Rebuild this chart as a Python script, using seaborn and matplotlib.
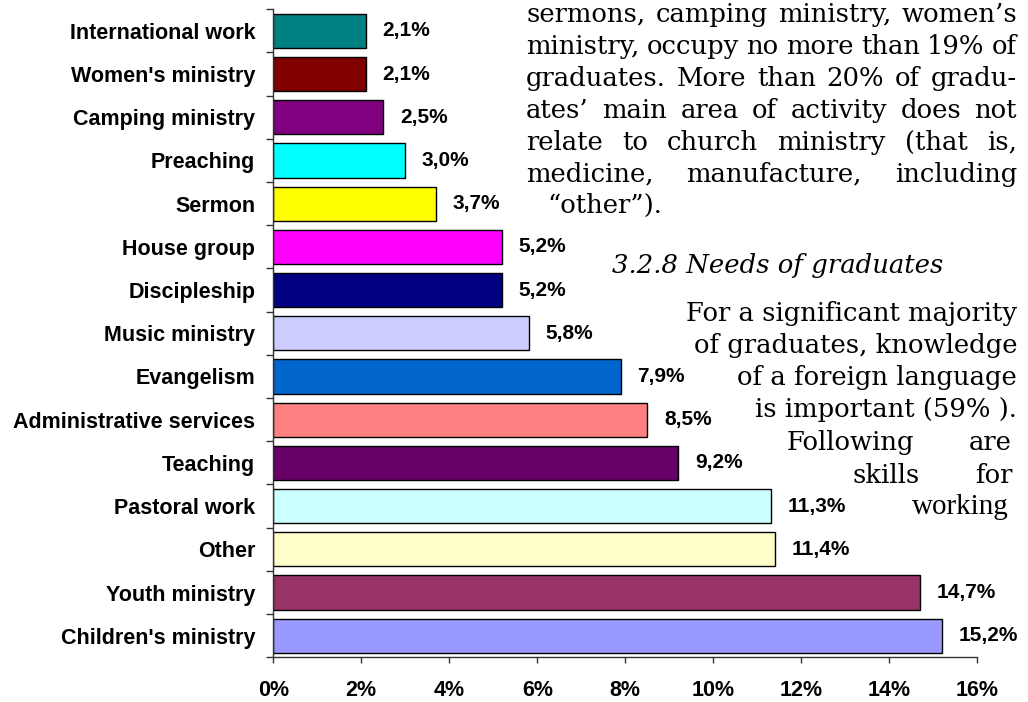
import matplotlib
matplotlib.use("Agg")
import matplotlib.pyplot as plt
import seaborn as sns
import pandas as pd
import numpy as np

# Main areas of graduates' activity (% of graduates)
categories = [
    "International work", "Women's ministry", "Camping ministry", "Preaching",
    "Sermon", "House group", "Discipleship", "Music ministry", "Evangelism",
    "Administrative services", "Teaching", "Pastoral work", "Other",
    "Youth ministry", "Children's ministry",
]
shares = [2.1, 2.1, 2.5, 3.0, 3.7, 5.2, 5.2, 5.8, 7.9, 8.5, 9.2, 11.3, 11.4, 14.7, 15.2]
bar_colors = [
    "#008080", "#800000", "#800080", "#00FFFF", "#FFFF00", "#FF00FF", "#000080",
    "#CCCCFF", "#0066CC", "#FF8080", "#660066", "#CCFFFF", "#FFFFCC", "#993366",
    "#9999FF",
]
x_ticks = [0, 2, 4, 6, 8, 10, 12, 14, 16]
x_tick_labels = ["0%", "2%", "4%", "6%", "8%", "10%", "12%", "14%", "16%"]

# Surrounding page text
paragraph_lines = [
    "sermons, camping ministry, women\u2019s",
    "ministry, occupy no more than 19% of",
    "graduates. More than 20% of gradu-",
    "ates\u2019 main area of activity does not",
    "relate to church ministry (that is,",
    "medicine, manufacture, including",
]
paragraph_end = "\u201cother\u201d)."
heading = "3.2.8 Needs of graduates"
needs_lines = [
    "For a significant majority",
    "of graduates, knowledge",
    "of a foreign language",
    "is important (59% ).",
]
spread_lines = ["Following are", "skills for"]
last_word = "working"

sns.set_style("white")
plt.rcParams["font.family"] = ["Liberation Sans", "DejaVu Sans"]
plt.rcParams["text.color"] = "black"
plt.rcParams["xtick.color"] = "black"
plt.rcParams["ytick.color"] = "black"

W, H = 1028, 702
fig = plt.figure(figsize=(W / 100, H / 100), dpi=100)
ax = fig.add_axes([273.3 / W, 1 - 657.3 / H, (977.3 - 273.3) / W, (657.3 - 9.3) / H])

df = pd.DataFrame({"activity": categories, "share": shares})
sns.barplot(
    data=df, x="share", y="activity", hue="activity", palette=bar_colors,
    legend=False, edgecolor="black", linewidth=1, width=0.79, saturation=1,
    orient="h", ax=ax,
)

ax.set_xlim(0, 16)
ax.set_ylim(len(categories) - 0.5, -0.5)
ax.set_xlabel("")
ax.set_ylabel("")
ax.set_xticks(x_ticks)
ax.set_xticklabels(x_tick_labels, fontsize=15.5, fontweight="bold", color="black")
ax.set_yticks(range(len(categories)))
ax.set_yticklabels(categories, fontsize=15.5, fontweight="bold", color="black")
ax.set_yticks(np.arange(-0.5, len(categories), 1), minor=True)

for side in ("top", "right"):
    ax.spines[side].set_visible(False)
for side in ("left", "bottom"):
    ax.spines[side].set_color("#333333")
    ax.spines[side].set_linewidth(1)

ax.tick_params(axis="x", which="major", bottom=True, length=4, width=1,
               color="#333333", pad=12, labelcolor="black")
ax.tick_params(axis="y", which="major", left=False, length=0, pad=13,
               labelcolor="black")
ax.tick_params(axis="y", which="minor", left=True, length=5, width=1,
               color="#333333")

for i, v in enumerate(shares):
    ax.annotate(f"{v:.1f}%".replace(".", ","), xy=(v, i), xytext=(12, 0),
                textcoords="offset points", ha="left", va="center",
                fontsize=15, fontweight="bold", color="black")

# Page text flowing around the chart
renderer = fig.canvas.get_renderer()
serif = "DejaVu Serif"


def width_of(s, size, family=serif, style="normal"):
    t = fig.text(0, 0, s, fontsize=size, family=family, style=style)
    w = t.get_window_extent(renderer).width
    t.remove()
    return w


right_edge = 1017
body_size = min(10 * 357 / width_of(needs_lines[0], 10),
                10 * (right_edge - 526 - 4) / width_of(paragraph_lines[0], 10))


def put(s, x, base, ha="left", size=None, family=serif, style="normal"):
    fig.text(x / W, 1 - base / H, s, fontsize=size or body_size, family=family,
             style=style, ha=ha, va="baseline", color="black")


def justify(line, left, right, base, size=None):
    size = size or body_size
    words = line.split(" ")
    widths = [width_of(w, size) for w in words]
    gap = (right - left - sum(widths)) / max(len(words) - 1, 1)
    x = left
    for w, wd in zip(words, widths):
        put(w, x, base, size=size)
        x += wd + gap


for k, line in enumerate(paragraph_lines):
    justify(line, 526, right_edge, 21.7 + 32 * k)
put(paragraph_end, 547, 213)
put(heading, 612, 273, style="italic")
for k, line in enumerate(needs_lines):
    put(line, right_edge, 321 + 32 * k, ha="right")
justify(spread_lines[0], 787, 1012, 450)
justify(spread_lines[1], 852, 1012, 483)
put(last_word, 1009, 514, ha="right", family="Liberation Serif",
    size=body_size * 1.12)

fig.savefig("out.png", dpi=100)
